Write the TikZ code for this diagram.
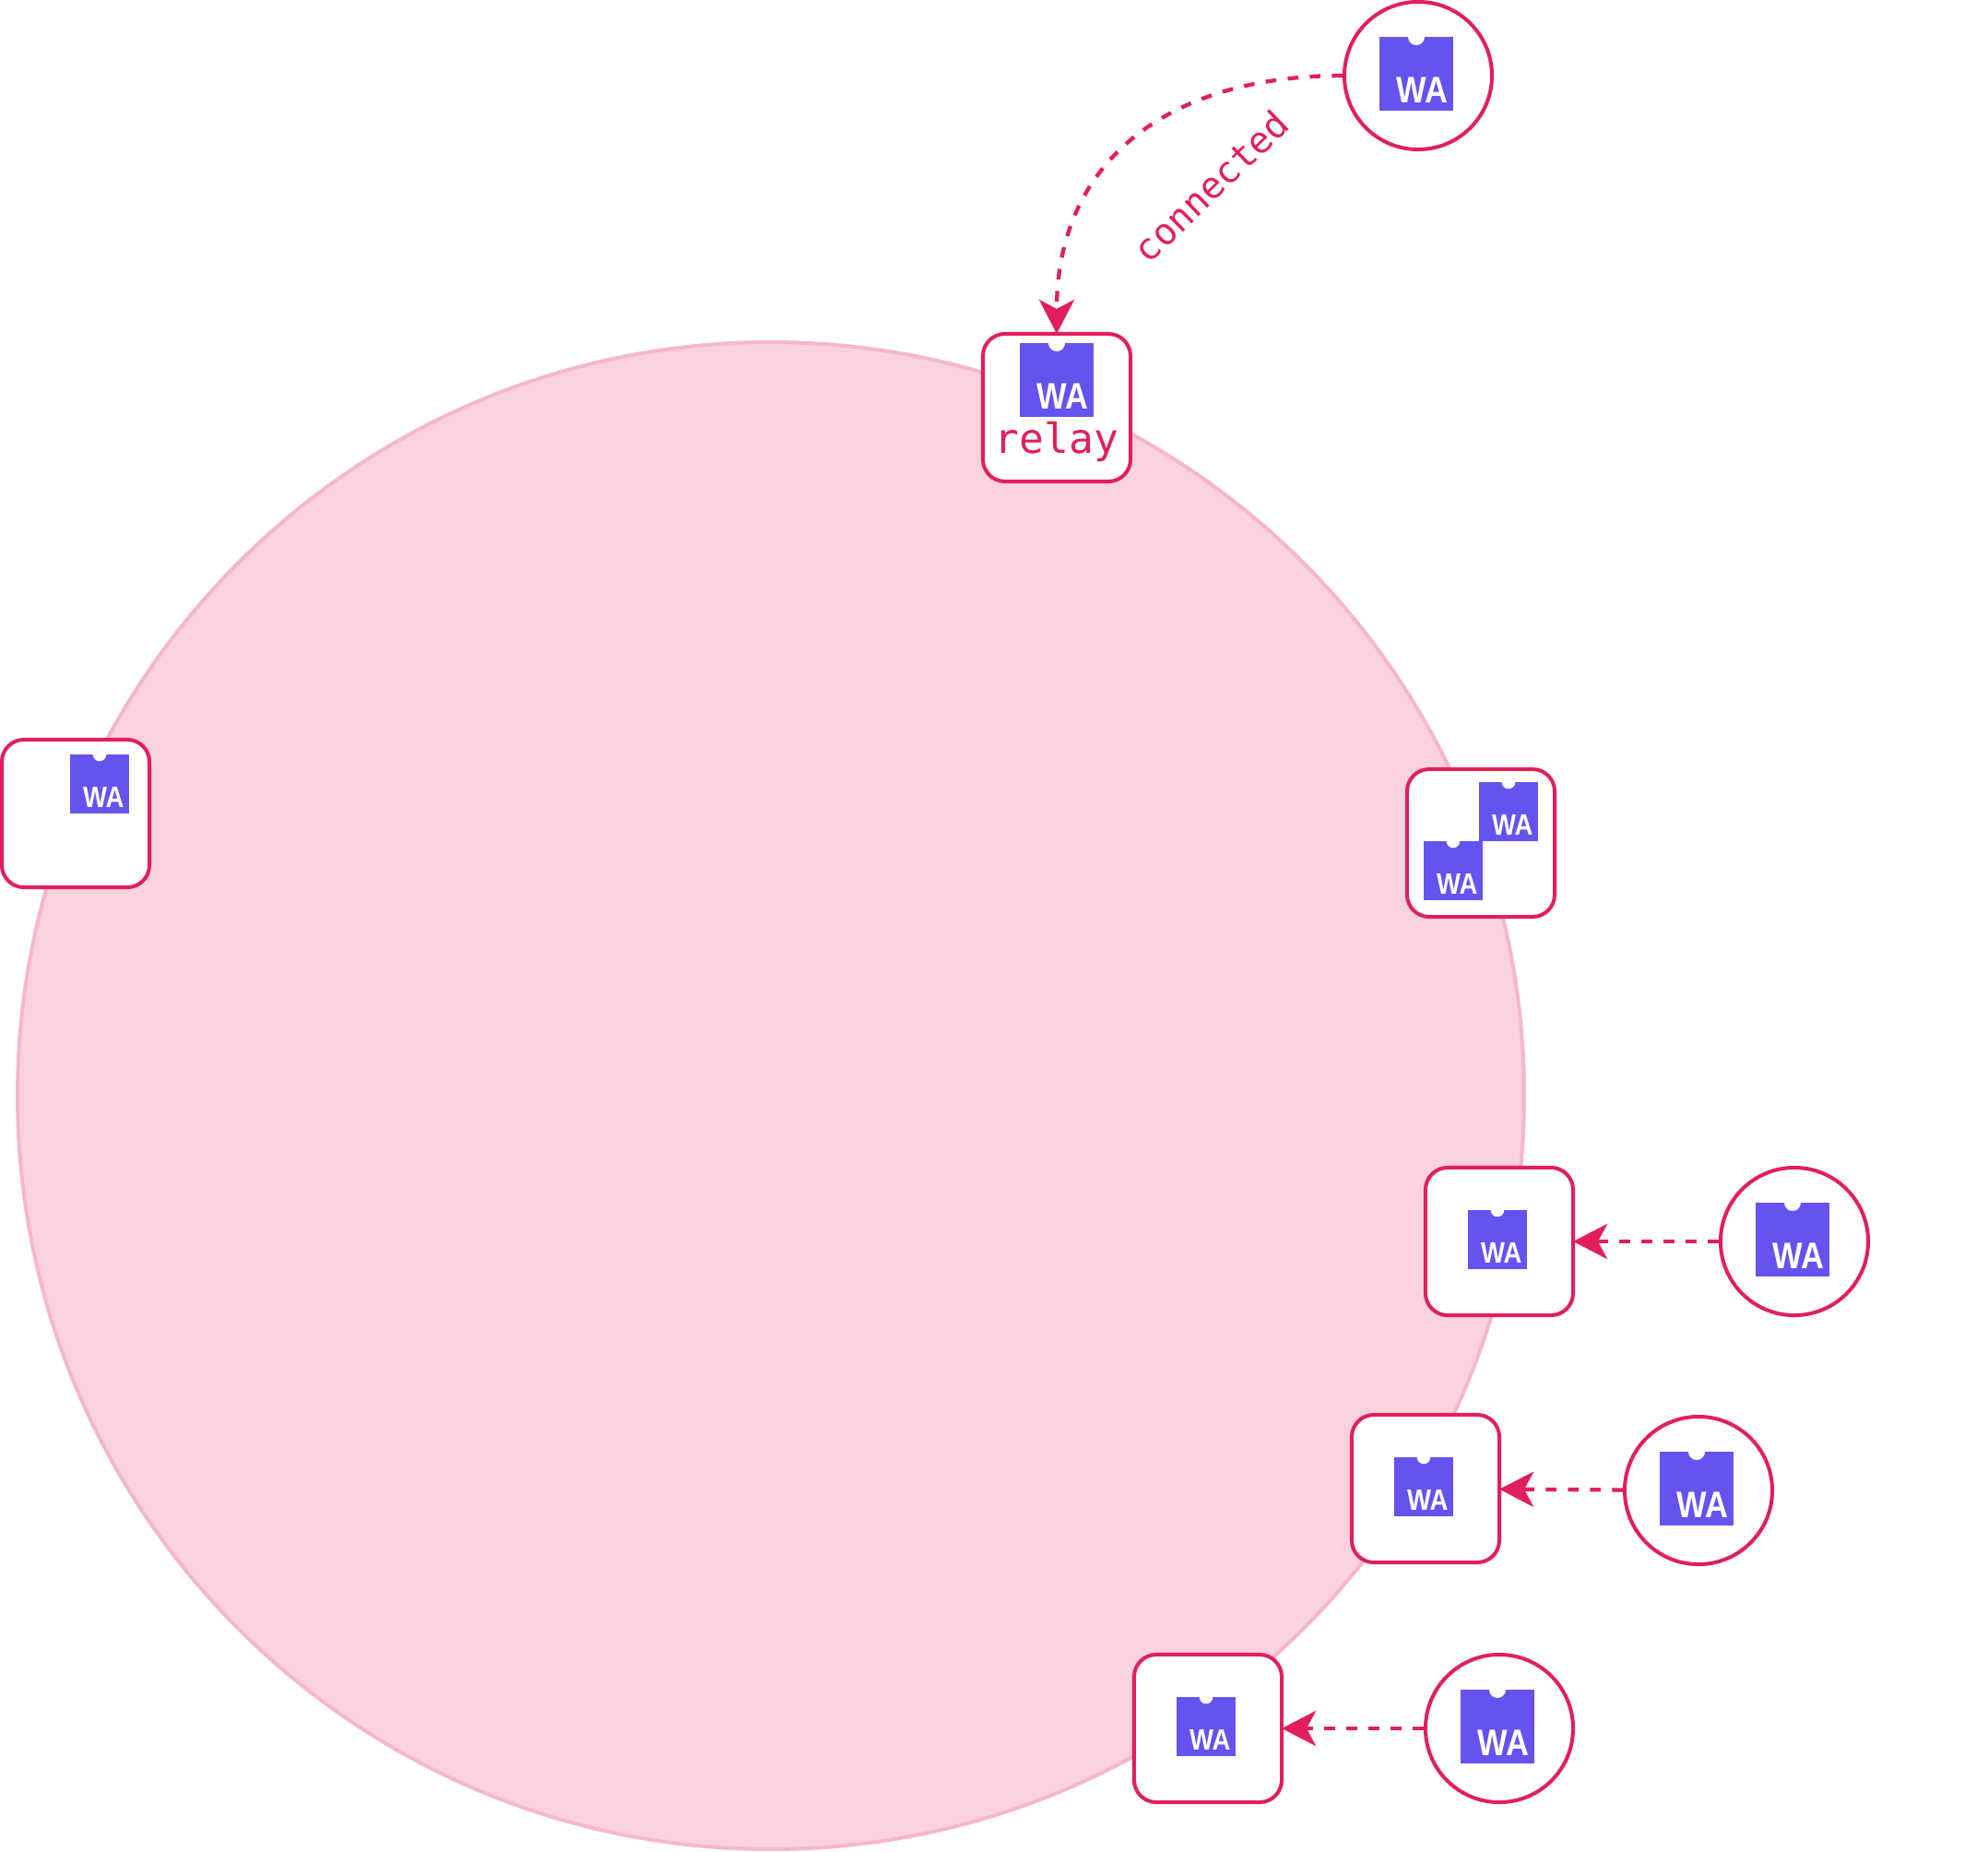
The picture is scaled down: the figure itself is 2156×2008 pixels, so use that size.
\documentclass[tikz,border=0pt]{standalone}
\usepackage{fontspec}
\usetikzlibrary{arrows.meta}
\newfontfamily\monofont{DejaVu Sans Mono}
\newfontfamily\wafont[FakeStretch=0.86]{Liberation Sans Bold}
\definecolor{wacrimson}{HTML}{E21F5B}
\definecolor{wapurple}{HTML}{6553F0}
\definecolor{ringfill}{HTML}{F9D2DE}
\definecolor{ringline}{HTML}{F5B7CC}
\tikzset{
    box/.style={draw=wacrimson, fill=white, line width=.04cm, rounded corners=.24cm, minimum size=1.6cm, inner sep=0pt},
    peer/.style={circle, draw=wacrimson, fill=white, line width=.04cm, minimum size=1.6cm, inner sep=0pt},
    link/.style={draw=wacrimson, line width=.043cm, dash pattern=on .115cm off .125cm, shorten >=-.02cm, -{Stealth[length=.37cm, width=.38cm, inset=.1cm]}},
    waicon/.style={
        fill=wapurple, inner sep=0pt,
        path picture={
            \fill[white] (path picture bounding box.north) circle [radius=#1];
        },
    },
    wasmall/.style={waicon=.073cm, minimum size=.64cm,
        label={[text=white, inner sep=0pt, anchor=base east, xshift=-.055cm, yshift=.07cm, font=\wafont\fontsize{9.1}{9.1}\selectfont]south east:WA}},
    walarge/.style={waicon=.09cm, minimum size=.8cm,
        label={[text=white, inner sep=0pt, anchor=base east, xshift=-.06cm, yshift=.09cm, font=\wafont\fontsize{11.4}{11.4}\selectfont]south east:WA}},
    monotext/.style={text=wacrimson, inner sep=0pt},
}

\begin{document}
\begin{tikzpicture}[x=.01cm, y=-.01cm]
    \useasboundingbox (0,0) rectangle (2156,2008);

    \node[circle, draw=ringline, fill=ringfill, line width=.04cm, minimum size=16.33cm, inner sep=0pt] (ring) at (836,1188) {};

    % boxes on the ring
    \node[box] (boxrelay) at (1146,442) {};
    \node[box] (boxleft) at (82,882) {};
    \node[box] (boxdouble) at (1606,914) {};
    \node[box] (boxa) at (1626,1346) {};
    \node[box] (boxb) at (1546,1614) {};
    \node[box] (boxc) at (1310,1874) {};

    \node[walarge] (iconrelay) at (1146,412) {};
    \node[monotext, anchor=base, font=\monofont\fontsize{12.7}{12.7}\selectfont] (textrelay) at (1146,491) {relay};
    \node[wasmall] (iconleft) at (108,850) {};
    \node[wasmall] (icondoublea) at (1636,880) {};
    \node[wasmall] (icondoubleb) at (1576,944) {};
    \node[wasmall] (icona) at (1624,1344) {};
    \node[wasmall] (iconb) at (1544,1612) {};
    \node[wasmall] (iconc) at (1308,1872) {};

    % peers
    \node[peer] (peertop) at (1538,82) {};
    \node[peer] (peera) at (1946,1346) {};
    \node[peer] (peerb) at (1842,1616) {};
    \node[peer] (peerc) at (1626,1874) {};

    \node[walarge] (icontop) at (1536,80) {};
    \node[walarge] (iconpeera) at (1944,1344) {};
    \node[walarge] (iconpeerb) at (1840,1614) {};
    \node[walarge] (iconpeerc) at (1624,1872) {};

    \draw[link] (peertop.west) to[out=180, in=90, looseness=1.15] (boxrelay.north);
    \draw[link] (peera) -- (boxa);
    \draw[link] (peerb) -- (boxb);
    \draw[link] (peerc) -- (boxc);

    \node[monotext, rotate=44, font=\monofont\fontsize{11.3}{11.3}\selectfont] (textconnected) at (1313,202) {connected};
\end{tikzpicture}
\end{document}
